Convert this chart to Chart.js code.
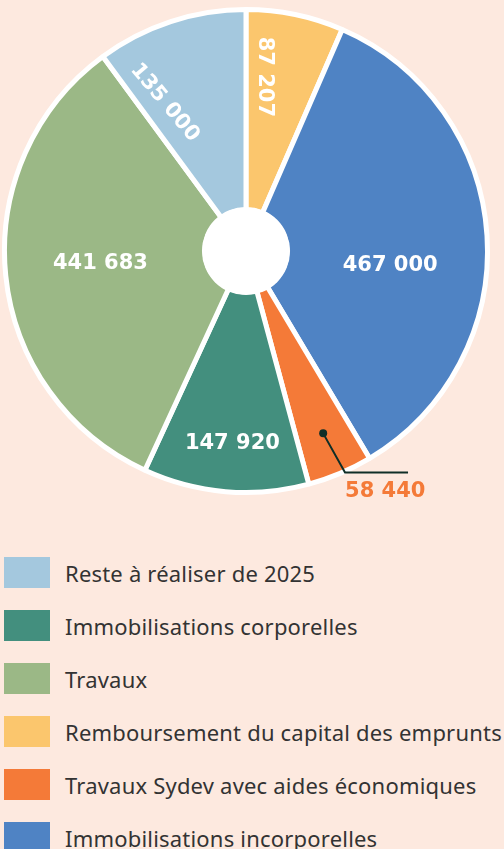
<!DOCTYPE html>
<html lang="fr">
<head>
<meta charset="utf-8">
<title>Répartition des dépenses</title>
<script src="https://cdn.jsdelivr.net/npm/chart.js@4.4.1/dist/chart.umd.min.js"></script>
<style>
  html, body { margin: 0; padding: 0; background: #fde9df; }
  body { width: 504px; height: 849px; position: relative; overflow: hidden; }
  #pieBox { position: absolute; left: 0; top: 0; width: 504px; height: 505px; }
  #legend { position: absolute; left: 4px; top: 557px; margin: 0; padding: 0; list-style: none; }
  #legend li { display: flex; align-items: center; height: 31px; margin-bottom: 22px; white-space: nowrap;
    font-family: "Noto Sans", sans-serif; font-size: 22px; letter-spacing: 0.2px; color: #333; }
  #legend .sw { width: 46px; height: 31px; margin-right: 15px; flex: none; }
</style>
</head>
<body>
<div id="pieBox"><canvas id="pieChart"></canvas></div>
<ul id="legend"></ul>
<script>
// slices, clockwise from 12 o'clock
const labels = [
  'Remboursement du capital des emprunts',
  'Immobilisations incorporelles',
  'Travaux Sydev avec aides économiques',
  'Immobilisations corporelles',
  'Travaux',
  'Reste à réaliser de 2025'
];
const values = [87207, 467000, 58440, 147920, 441683, 135000];
const colors = ['#fbc66d', '#4f83c4', '#f47a38', '#438f7e', '#9bb886', '#a4c8de'];
// legend order as printed under the chart
const legendOrder = [5, 3, 4, 0, 2, 1];

const fmt = v => v.toLocaleString('fr-FR').replace(/\s/g, ' ');

// where each value sits inside its slice: t = fraction along the arc, r = fraction of radius
const labelPlace = [
  { t: 0.26, r: 0.725, rot: 90 },
  { t: 0.574, r: 0.60, rot: 0 },
  { t: 0.5, r: 0.82, outside: true },
  { t: 0.48, r: 0.80, rot: 0 },
  { t: 0.506, r: 0.605, rot: 0 },
  { t: 0.21, r: 0.70, rot: 50 }
];

const valueLabels = {
  id: 'valueLabels',
  afterDatasetsDraw(chart) {
    const ctx = chart.ctx;
    const arcs = chart.getDatasetMeta(0).data;
    const first = arcs[0];
    const cx = first.x, cy = first.y;
    const outer = first.outerRadius, inner = first.innerRadius;

    // white centre
    ctx.save();
    ctx.fillStyle = '#ffffff';
    ctx.beginPath();
    ctx.arc(cx, cy, inner + 3, 0, Math.PI * 2);
    ctx.fill();
    ctx.restore();

    arcs.forEach((arc, i) => {
      const p = labelPlace[i];
      const a = arc.startAngle + p.t * (arc.endAngle - arc.startAngle);
      const x = cx + Math.cos(a) * outer * p.r;
      const y = cy + Math.sin(a) * outer * p.r;
      const txt = fmt(values[i]);
      ctx.save();
      ctx.font = 'bold 21px "DejaVu Sans", sans-serif';
      if (p.outside) {
        const b = a - 0.02;
        const bx = cx + Math.cos(b) * outer * 1.005;
        const by = cy + Math.sin(b) * outer * 1.005;
        ctx.strokeStyle = '#0f2e27';
        ctx.fillStyle = '#0f2e27';
        ctx.lineWidth = 2;
        ctx.beginPath();
        ctx.moveTo(x, y);
        ctx.lineTo(bx, by);
        ctx.lineTo(bx + 63, by);
        ctx.stroke();
        ctx.beginPath();
        ctx.arc(x, y, 4, 0, Math.PI * 2);
        ctx.fill();
        ctx.fillStyle = colors[i];
        ctx.textAlign = 'left';
        ctx.textBaseline = 'middle';
        ctx.fillText(txt, bx, by + 19);
      } else {
        ctx.translate(x, y);
        ctx.rotate(p.rot * Math.PI / 180);
        ctx.fillStyle = '#ffffff';
        ctx.textAlign = 'center';
        ctx.textBaseline = 'middle';
        ctx.fillText(txt, 0, 0);
      }
      ctx.restore();
    });
  }
};

new Chart(document.getElementById('pieChart'), {
  type: 'doughnut',
  data: {
    labels: labels,
    datasets: [{
      data: values,
      backgroundColor: colors,
      borderColor: '#ffffff',
      borderWidth: 5
    }]
  },
  options: {
    responsive: true,
    maintainAspectRatio: false,
    animation: false,
    cutout: '17%',
    layout: { padding: { left: 2, right: 14, top: 7, bottom: 10 } },
    plugins: {
      legend: { display: false },
      tooltip: { enabled: false }
    }
  },
  plugins: [valueLabels]
});

// legend below the chart
const legendEl = document.getElementById('legend');
legendOrder.forEach(i => {
  const li = document.createElement('li');
  const sw = document.createElement('span');
  sw.className = 'sw';
  sw.style.background = colors[i];
  li.appendChild(sw);
  li.appendChild(document.createTextNode(labels[i]));
  legendEl.appendChild(li);
});
</script>
</body>
</html>
